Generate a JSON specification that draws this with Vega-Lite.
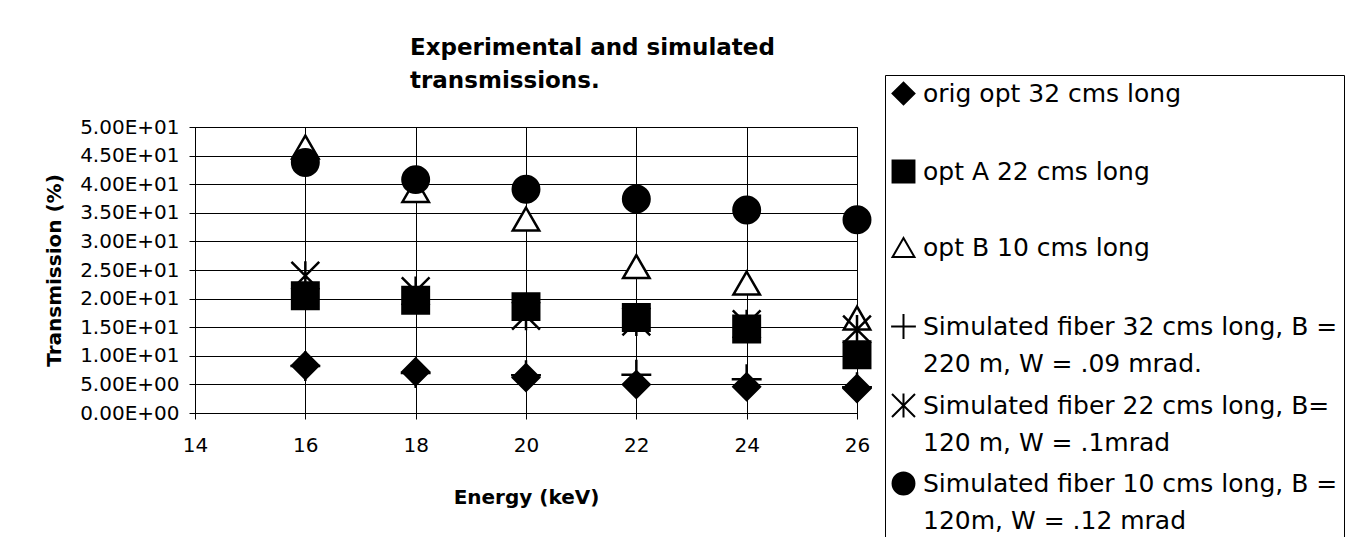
{
  "$schema": "https://vega.github.io/schema/vega-lite/v6.json",
  "width": 662,
  "height": 286,
  "autosize": {"type": "none"},
  "padding": {"left": 195, "top": 127, "right": 504, "bottom": 124},
  "background": "white",
  "title": {
    "text": ["Experimental and simulated", "transmissions."],
    "anchor": "start",
    "frame": "group",
    "dx": 215,
    "dy": 65,
    "font": "DejaVu Sans",
    "fontSize": 23,
    "fontWeight": "bold",
    "lineHeight": 33,
    "baseline": "bottom",
    "offset": 24,
    "color": "black"
  },
  "config": {
    "view": {"stroke": "black", "strokeWidth": 1},
    "style": {"guide-label": {"lineHeight": 37}},
    "axis": {
      "domainColor": "black",
      "domainWidth": 1,
      "tickColor": "black",
      "tickSize": 6,
      "labelFont": "DejaVu Sans",
      "labelFontSize": 20,
      "labelColor": "black",
      "titleFont": "DejaVu Sans",
      "titleFontSize": 20,
      "titleFontWeight": "bold",
      "titleColor": "black",
      "grid": true,
      "gridColor": "black",
      "gridWidth": 1,
      "gridOpacity": 1
    }
  },
  "data": {
    "values": [
      {"series": "orig opt 32 cms long", "energy": 16, "transmission": 8.3},
      {"series": "orig opt 32 cms long", "energy": 18, "transmission": 7.2},
      {"series": "orig opt 32 cms long", "energy": 20, "transmission": 6.2},
      {"series": "orig opt 32 cms long", "energy": 22, "transmission": 5.0},
      {"series": "orig opt 32 cms long", "energy": 24, "transmission": 4.6},
      {"series": "orig opt 32 cms long", "energy": 26, "transmission": 4.3},
      {"series": "opt A 22 cms long", "energy": 16, "transmission": 20.5},
      {"series": "opt A 22 cms long", "energy": 18, "transmission": 19.7},
      {"series": "opt A 22 cms long", "energy": 20, "transmission": 18.6},
      {"series": "opt A 22 cms long", "energy": 22, "transmission": 16.7},
      {"series": "opt A 22 cms long", "energy": 24, "transmission": 14.7},
      {"series": "opt A 22 cms long", "energy": 26, "transmission": 10.2},
      {"series": "opt B 10 cms long", "energy": 16, "transmission": 46.5},
      {"series": "opt B 10 cms long", "energy": 18, "transmission": 38.9},
      {"series": "opt B 10 cms long", "energy": 20, "transmission": 33.9},
      {"series": "opt B 10 cms long", "energy": 22, "transmission": 25.6},
      {"series": "opt B 10 cms long", "energy": 24, "transmission": 22.7},
      {"series": "opt B 10 cms long", "energy": 26, "transmission": 16.6},
      {"series": "Simulated fiber 32 cms long, B =|220 m, W = .09 mrad.", "energy": 16, "transmission": 8.2},
      {"series": "Simulated fiber 32 cms long, B =|220 m, W = .09 mrad.", "energy": 18, "transmission": 7.0},
      {"series": "Simulated fiber 32 cms long, B =|220 m, W = .09 mrad.", "energy": 20, "transmission": 6.6},
      {"series": "Simulated fiber 32 cms long, B =|220 m, W = .09 mrad.", "energy": 22, "transmission": 6.7},
      {"series": "Simulated fiber 32 cms long, B =|220 m, W = .09 mrad.", "energy": 24, "transmission": 5.9},
      {"series": "Simulated fiber 32 cms long, B =|220 m, W = .09 mrad.", "energy": 26, "transmission": 4.5},
      {"series": "Simulated fiber 22 cms long, B=|120 m, W = .1mrad", "energy": 16, "transmission": 24.0},
      {"series": "Simulated fiber 22 cms long, B=|120 m, W = .1mrad", "energy": 18, "transmission": 21.3},
      {"series": "Simulated fiber 22 cms long, B=|120 m, W = .1mrad", "energy": 20, "transmission": 17.0},
      {"series": "Simulated fiber 22 cms long, B=|120 m, W = .1mrad", "energy": 22, "transmission": 16.0},
      {"series": "Simulated fiber 22 cms long, B=|120 m, W = .1mrad", "energy": 24, "transmission": 15.5},
      {"series": "Simulated fiber 22 cms long, B=|120 m, W = .1mrad", "energy": 26, "transmission": 14.6},
      {"series": "Simulated fiber 10 cms long, B =|120m, W = .12 mrad", "energy": 16, "transmission": 43.8},
      {"series": "Simulated fiber 10 cms long, B =|120m, W = .12 mrad", "energy": 18, "transmission": 40.8},
      {"series": "Simulated fiber 10 cms long, B =|120m, W = .12 mrad", "energy": 20, "transmission": 39.1},
      {"series": "Simulated fiber 10 cms long, B =|120m, W = .12 mrad", "energy": 22, "transmission": 37.4},
      {"series": "Simulated fiber 10 cms long, B =|120m, W = .12 mrad", "energy": 24, "transmission": 35.5},
      {"series": "Simulated fiber 10 cms long, B =|120m, W = .12 mrad", "energy": 26, "transmission": 33.8}
    ]
  },
  "mark": {"type": "point", "filled": true, "size": 700, "strokeWidth": 2.5, "opacity": 1},
  "encoding": {
    "x": {
      "field": "energy",
      "type": "quantitative",
      "scale": {"domain": [14, 26], "nice": false, "zero": false},
      "axis": {
        "values": [14, 16, 18, 20, 22, 24, 26],
        "title": "Energy (keV)",
        "labelPadding": 16,
        "titlePadding": 32,
        "labelFlush": false
      }
    },
    "y": {
      "field": "transmission",
      "type": "quantitative",
      "scale": {"domain": [0, 50], "nice": false},
      "axis": {
        "values": [0, 5, 10, 15, 20, 25, 30, 35, 40, 45, 50],
        "title": "Transmission (%)",
        "labelExpr": "datum.value == 0 ? '0.00E+00' : datum.value < 10 ? format(datum.value, '.2f') + 'E+00' : format(datum.value / 10, '.2f') + 'E+01'",
        "labelPadding": 10,
        "titlePadding": 15,
        "labelFlush": false
      }
    },
    "shape": {
      "field": "series",
      "type": "nominal",
      "scale": {
        "domain": [
          "orig opt 32 cms long",
          "opt A 22 cms long",
          "opt B 10 cms long",
          "Simulated fiber 32 cms long, B =|220 m, W = .09 mrad.",
          "Simulated fiber 22 cms long, B=|120 m, W = .1mrad",
          "Simulated fiber 10 cms long, B =|120m, W = .12 mrad"
        ],
        "range": [
          "diamond",
          "square",
          "triangle-up",
          "M-1.13,0H1.13M0,-1.13V1.13",
          "M-1.05,-1.05L1.05,1.05M-1.05,1.05L1.05,-1.05M0,-1.1V1.1",
          "circle"
        ]
      },
      "legend": {
        "title": null,
        "orient": "none",
        "legendX": 690,
        "legendY": -52,
        "direction": "vertical",
        "strokeColor": "black",
        "fillColor": "white",
        "padding": 6,
        "labelFont": "DejaVu Sans",
        "labelFontSize": 25,
        "labelColor": "black",
        "labelLimit": 0,
        "labelOffset": 7,
        "labelExpr": "indexof(datum.label, '|') >= 0 ? split(datum.label, '|') : [datum.label, ' ']",
        "symbolSize": 480,
        "symbolStrokeWidth": 2,
        "rowPadding": 12
      }
    },
    "fill": {
      "field": "series",
      "type": "nominal",
      "scale": {
        "domain": [
          "orig opt 32 cms long",
          "opt A 22 cms long",
          "opt B 10 cms long",
          "Simulated fiber 32 cms long, B =|220 m, W = .09 mrad.",
          "Simulated fiber 22 cms long, B=|120 m, W = .1mrad",
          "Simulated fiber 10 cms long, B =|120m, W = .12 mrad"
        ],
        "range": ["black", "black", "white", "black", "black", "black"]
      }
    },
    "stroke": {
      "field": "series",
      "type": "nominal",
      "scale": {
        "domain": [
          "orig opt 32 cms long",
          "opt A 22 cms long",
          "opt B 10 cms long",
          "Simulated fiber 32 cms long, B =|220 m, W = .09 mrad.",
          "Simulated fiber 22 cms long, B=|120 m, W = .1mrad",
          "Simulated fiber 10 cms long, B =|120m, W = .12 mrad"
        ],
        "range": ["black", "black", "black", "black", "black", "black"]
      }
    }
  }
}
